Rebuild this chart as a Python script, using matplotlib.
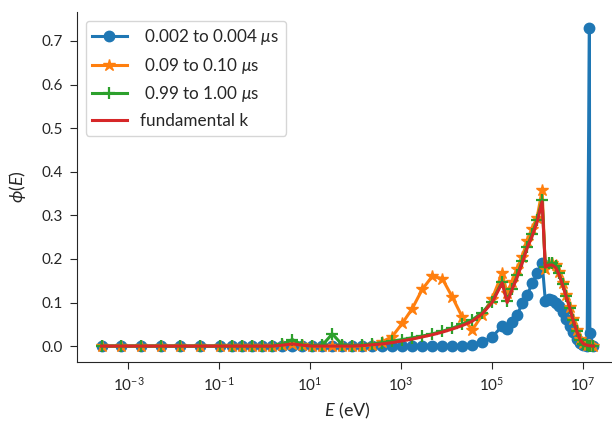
import numpy as np
import matplotlib
matplotlib.use("Agg")
import matplotlib.pyplot as plt
from matplotlib.ticker import NullLocator, FixedLocator

#Fonts and style
plt.rcParams['font.family'] = ['Lato', 'DejaVu Sans']
plt.rcParams['mathtext.fontset'] = 'custom'
plt.rcParams['mathtext.rm'] = 'Lato'
plt.rcParams['mathtext.it'] = 'Lato:italic'
plt.rcParams['mathtext.bf'] = 'Lato:bold'
plt.rcParams['mathtext.fallback'] = 'stixsans'
plt.rcParams['text.color'] = '#262626'
plt.rcParams['axes.labelcolor'] = '#262626'
plt.rcParams['xtick.color'] = '#262626'
plt.rcParams['ytick.color'] = '#262626'
plt.rcParams['axes.edgecolor'] = '#262626'

#Energy grid (log10 of E in eV)
log_energy = [-3.59, -3.16, -2.72, -2.29, -1.86, -1.42, -0.99,
              -0.71, -0.49, -0.27, -0.05, 0.17, 0.39, 0.61, 0.83, 1.05, 1.27,
              1.49, 1.71, 1.93, 2.15, 2.37, 2.59, 2.81, 3.03, 3.25, 3.47,
              3.69, 3.91, 4.13, 4.35, 4.57, 4.79, 5.01, 5.23,
              5.34, 5.45, 5.56, 5.67, 5.78, 5.89, 6.00, 6.11,
              6.18, 6.25, 6.33, 6.41, 6.48, 6.56, 6.64, 6.72, 6.79, 6.87,
              6.95, 7.02, 7.10, 7.15, 7.16, 7.24]

#Flux snapshots
phi_early = [0, 0, 0, 0, 0, 0, 0,
             0, 0, 0, 0, 0, 0, 0, 0, 0, 0,
             0, 0, 0, 0, 0, 0, 0, 0, 0, 0,
             0, 0, 0, 0, 0.003, 0.010, 0.021, 0.046,
             0.040, 0.055, 0.071, 0.098, 0.117, 0.144, 0.167, 0.191,
             0.104, 0.109, 0.106, 0.100, 0.092, 0.079, 0.063, 0.046, 0.032, 0.017,
             0.007, 0.002, 0.0, 0.730, 0.029, 0.0]

phi_mid = [0, 0, 0, 0, 0, 0, 0,
           0, 0, 0, 0, 0, 0.002, 0.005, 0.002, 0, 0,
           0, 0, 0, 0, 0.003, 0.010, 0.022, 0.052, 0.086, 0.130,
           0.160, 0.155, 0.113, 0.067, 0.037, 0.071, 0.109, 0.167,
           0.121, 0.148, 0.177, 0.205, 0.240, 0.268, 0.295, 0.358,
           0.178, 0.188, 0.190, 0.185, 0.170, 0.145, 0.118, 0.090, 0.062, 0.037,
           0.016, 0.006, 0.003, 0.002, 0.002, 0.001]

phi_late = [0, 0, 0, 0, 0, 0, 0,
            0, 0, 0, 0, 0, 0.004, 0.015, 0.003, 0.001, 0.002,
            0.028, 0.003, 0.001, 0.002, 0.005, 0.008, 0.011, 0.015, 0.019, 0.023,
            0.028, 0.034, 0.041, 0.050, 0.060, 0.077, 0.102, 0.148,
            0.103, 0.132, 0.162, 0.195, 0.228, 0.258, 0.290, 0.335,
            0.182, 0.190, 0.190, 0.183, 0.167, 0.142, 0.115, 0.088, 0.060, 0.035,
            0.014, 0.005, 0.002, 0.001, 0.001, 0.0]

phi_fund = [0, 0, 0, 0, 0, 0, 0,
            0, 0, 0, 0, 0, 0.002, 0.005, 0.002, 0, 0,
            0, 0, 0, 0.001, 0.003, 0.005, 0.008, 0.012, 0.016, 0.021,
            0.026, 0.032, 0.039, 0.047, 0.057, 0.074, 0.100, 0.145,
            0.100, 0.130, 0.158, 0.190, 0.225, 0.252, 0.285, 0.331,
            0.181, 0.186, 0.186, 0.180, 0.165, 0.140, 0.113, 0.087, 0.060, 0.035,
            0.014, 0.005, 0.002, 0.001, 0.001, 0.0]

labels = [" 0.002 to 0.004 $\\mu$s", " 0.09 to 0.10 $\\mu$s",
          " 0.99 to 1.00 $\\mu$s", "fundamental k"]

energy = 10 ** np.array(log_energy)

fig = plt.figure(figsize=(6.12, 4.26), dpi=100)
ax = fig.add_axes([77 / 612, 64 / 426, 541 / 612, 350 / 426])

ax.plot(energy, phi_early, color="#1f77b4", lw=2.2, marker="o", ms=7.5, label=labels[0])
ax.plot(energy, phi_mid, color="#ff7f0e", lw=2.2, marker="*", ms=9, label=labels[1])
ax.plot(energy, phi_late, color="#2ca02c", lw=2.2, marker="+", ms=8, mew=1.6, label=labels[2])
ax.plot(energy, phi_fund, color="#d62728", lw=2.2, label=labels[3])

ax.set_xscale("log")
ax.set_xlim(10 ** -4.13, 10 ** 7.78)
ax.set_ylim(-0.0365, 0.7665)
ax.xaxis.set_major_locator(FixedLocator([1e-3, 1e-1, 1e1, 1e3, 1e5, 1e7]))
ax.xaxis.set_minor_locator(NullLocator())
ax.set_yticks(np.arange(0, 0.71, 0.1))

for side in ["top", "right"]:
    ax.spines[side].set_visible(False)
ax.tick_params(labelsize=11, length=5, pad=5)

ax.set_xlabel("$E$ (eV)", fontsize=13, labelpad=5)
ax.set_ylabel("$\\phi(E)$", fontsize=13, labelpad=10)
ax.legend(loc="upper left", fontsize=12.3)

fig.savefig("out.png", dpi=100)
